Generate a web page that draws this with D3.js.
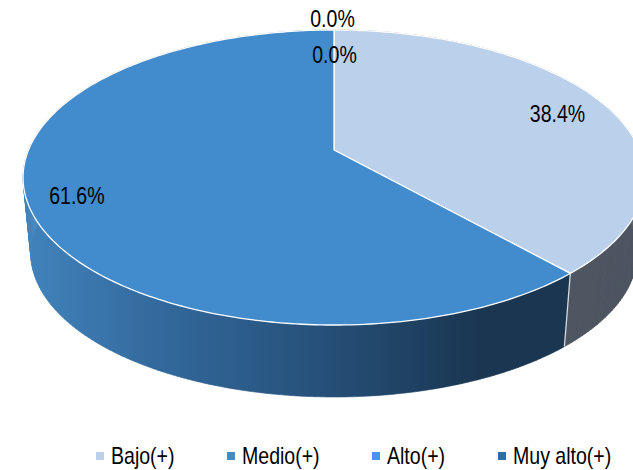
<html>

<head>
  <script src="https://d3js.org/d3.v7.min.js"></script>
  <style>
    html, body { margin: 0; padding: 0; background: #fff; overflow: hidden; }
    text { font-family: "Liberation Sans", Arial, sans-serif; fill: #000; }
  </style>
</head>

<body>
  <svg id="chart" width="633" height="470" style="display:block"></svg>
  <script>

    const categories = ["Bajo(+)", "Medio(+)", "Alto(+)", "Muy alto(+)"];
    const shares = [38.4, 61.6, 0.0, 0.0];
    const sliceColors = ["#bbd0eb", "#428bcd", "#4a90f5", "#2e6dad"];

    // how far out each label sits, as a fraction of the pie radius, plus a small nudge in px
    const labelRadius = [0.82, 0.85, 1.11, 0.762];
    const labelNudge = [[1.5, 3], [0, 0], [-1.5, 0], [0.5, 0]];
    const legendX = [96, 227, 372, 498];

    const svg = d3.select("#chart");

    // the pie is drawn in perspective, so its centre is not the ellipse centre
    const cx = 334, cy = 150;
    const tilt = 0.1864, scaleX = 305.5, scaleY = 142.4;
    // depth of the wall: lower rim shrinks towards a far vanishing point
    const rimScale = 0.975, vanishY = 3204;

    function project(angle, r) {
      const x = r * Math.sin(angle);
      const y = r * Math.cos(angle);
      const w = 1 + tilt * y;
      return [cx + scaleX * x / w, cy - scaleY * y / w];
    }

    function rimPoint(p) {
      return [cx + (p[0] - cx) * rimScale, vanishY + (p[1] - vanishY) * rimScale];
    }

    const arcs = d3.pie().value(d => d).sort(null)(shares);
    const visibleArcs = arcs.filter(a => a.value > 0);

    function edge(a) {
      const n = Math.max(2, Math.ceil((a.endAngle - a.startAngle) * 60));
      return d3.range(n + 1).map(i => project(a.startAngle + (a.endAngle - a.startAngle) * i / n, 1));
    }

    const line = d3.line();

    const defs = svg.append("defs");
    const grad = defs.append("linearGradient")
      .attr("id", "wallMedio")
      .attr("gradientUnits", "userSpaceOnUse")
      .attr("x1", 30).attr("x2", 480).attr("y1", 0).attr("y2", 0);
    grad.append("stop").attr("offset", "0").attr("stop-color", "#4182bb");
    grad.append("stop").attr("offset", "0.3").attr("stop-color", "#32689b");
    grad.append("stop").attr("offset", "0.65").attr("stop-color", "#265079");
    grad.append("stop").attr("offset", "1").attr("stop-color", "#1a3651");

    const wallColors = ["#4d5661", "url(#wallMedio)", "#4a90f5", "#2e6dad"];

    // walls first, the top face covers whatever is behind it
    // one small quad per step, so the sweep also fills the tangent at the far left
    svg.selectAll(".wall").data(visibleArcs)
      .join("path")
      .attr("class", "wall")
      .attr("fill", a => wallColors[a.index])
      .attr("stroke", a => wallColors[a.index])
      .attr("stroke-width", 0.6)
      .attr("d", a => {
        const top = edge(a);
        return d3.pairs(top).map(p =>
          line([p[0], p[1], rimPoint(p[1]), rimPoint(p[0])]) + "Z").join("");
      });

    // seam on the front of the wall where the two slices meet
    svg.append("path")
      .attr("stroke", "#d5d9de")
      .attr("stroke-width", 1.3)
      .attr("fill", "none")
      .attr("d", () => {
        const p = project(visibleArcs[0].endAngle, 1);
        return line([p, rimPoint(p)]);
      });

    svg.selectAll(".slice").data(visibleArcs)
      .join("path")
      .attr("class", "slice")
      .attr("fill", a => sliceColors[a.index])
      .attr("stroke", "#fff")
      .attr("stroke-width", 1.3)
      .attr("stroke-linejoin", "round")
      .attr("d", a => line([[cx, cy]].concat(edge(a))) + "Z");

    // Arial-like text squeezed horizontally, as in the picture
    svg.selectAll(".label").data(arcs)
      .join("text")
      .attr("class", "label")
      .attr("font-size", 23)
      .attr("text-anchor", "middle")
      .attr("dy", "0.36em")
      .attr("transform", a => {
        const p = project((a.startAngle + a.endAngle) / 2, labelRadius[a.index]);
        const n = labelNudge[a.index];
        return "translate(" + (p[0] + n[0]) + "," + (p[1] + n[1]) + ") scale(0.85,1)";
      })
      .text(a => a.value.toFixed(1) + "%");

    const legend = svg.selectAll(".legend").data(categories)
      .join("g")
      .attr("class", "legend")
      .attr("transform", (d, i) => "translate(" + legendX[i] + ",464)");

    legend.append("rect")
      .attr("y", -12)
      .attr("width", 8)
      .attr("height", 8)
      .attr("fill", (d, i) => sliceColors[i]);

    legend.append("text")
      .attr("font-size", 23)
      .attr("transform", "translate(15,0) scale(0.85,1)")
      .text(d => d);

  </script>
</body>

</html>
